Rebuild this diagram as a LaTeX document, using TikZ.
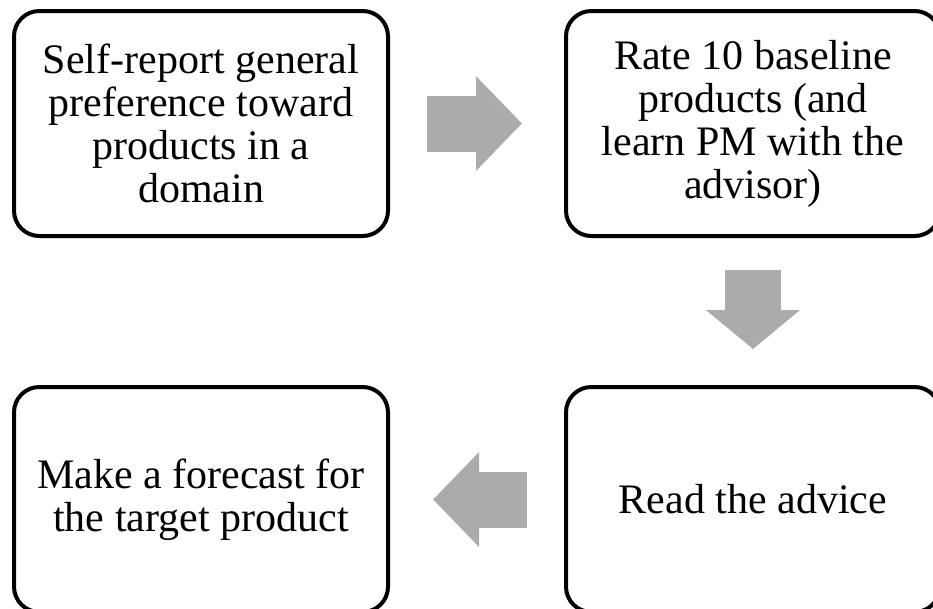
\documentclass[tikz,border=0pt]{standalone}
\usepackage{fontspec}
\setmainfont{Liberation Serif}
\usetikzlibrary{arrows.meta,positioning}
\definecolor{arrowgray}{RGB}{171,171,171}

\begin{document}
\begin{tikzpicture}[
    x=0.75pt, y=-0.75pt,
    every node/.style={font=\fontsize{31.5}{32.25}\selectfont},
    box/.style={draw, line width=3pt, rounded corners=19pt, align=center, minimum width=280.5pt, minimum height=168.75pt, inner sep=0pt},
    flow/.style={draw=arrowgray, line width=42pt, -{Triangle[width=69pt, length=#1]}},
    flow/.default=34.5pt
]
\useasboundingbox (0,0) rectangle (933,608);
\clip (0,0) rectangle (933,608);
\node[box] (report) at (201,123.5) {Self-report general\\preference toward\\products in a\\domain};
\node[box, right=130.5pt of report] (rate) {Rate 10 baseline\\products (and\\learn PM with the\\advisor)};
\node[box, below=110.25pt of rate] (advice) {Read the advice};
\node[box, left=130.5pt of advice] (forecast) {Make a forecast for\\the target product};
\draw[flow, shorten <=27.75pt, shorten >=31.5pt] (report) -- (rate);
\draw[flow=29.25pt, shorten <=24pt, shorten >=27pt] (rate) -- (advice);
\draw[flow, shorten <=27.75pt, shorten >=32.25pt] (advice) -- (forecast);
\end{tikzpicture}
\end{document}
